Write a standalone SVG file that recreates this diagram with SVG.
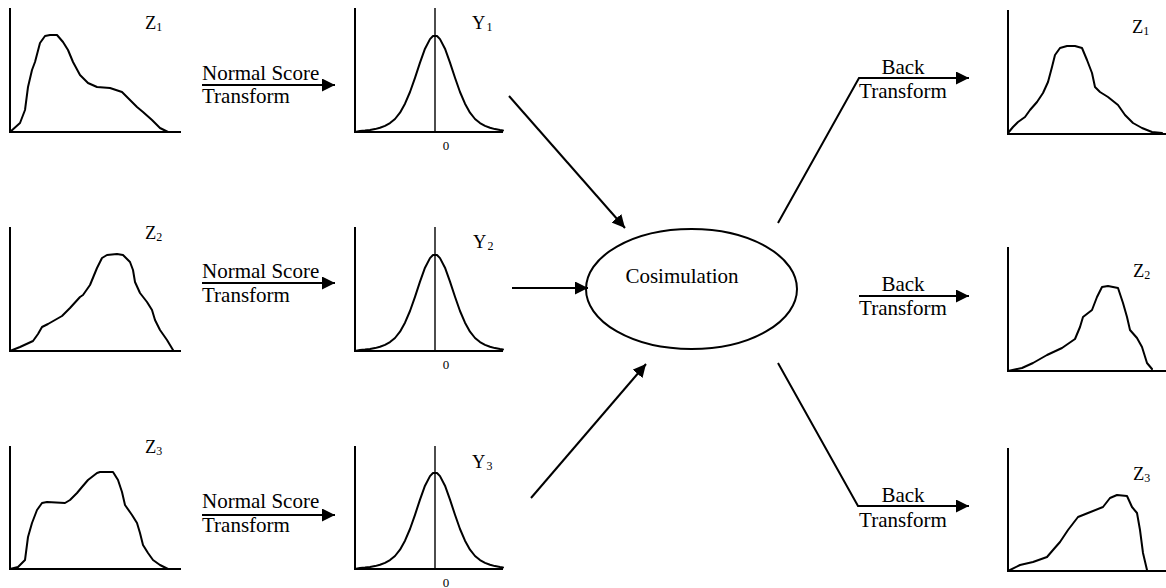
<svg xmlns="http://www.w3.org/2000/svg" xmlns:xlink="http://www.w3.org/1999/xlink" width="1166" height="588" viewBox="0 0 1166 588">
<style>
.ax{stroke:#000;stroke-width:2;fill:none}
.cl{stroke:#000;stroke-width:1.4;fill:none}
.cv{stroke:#000;stroke-width:2;fill:none;stroke-linejoin:round;stroke-linecap:round}
.cn{stroke:#000;stroke-width:2;fill:none}
text{font-family:"Liberation Serif","Times New Roman",serif;fill:#000}
.lbl{font-size:18.5px}
.sub{font-size:12px}
.tx{font-size:21px}
.zero{font-size:13px}
</style>
<defs>
<marker id="ah" markerUnits="userSpaceOnUse" markerWidth="14" markerHeight="14" viewBox="0 0 14 14" refX="13" refY="6.5" orient="auto">
<path d="M0,0 L13,6.5 L0,13 Z" fill="#000"/>
</marker>
<path id="bell" d="M-80,0 L-75,-1 L-70,-1.4 L-65,-2 L-60,-2.9 L-55,-4.2 L-50,-6.1 L-45,-8.9 L-40,-13 L-35,-19.3 L-30,-28.3 L-25,-40 L-20,-54.2 L-15,-69.4 L-10,-83.3 L-5,-92.9 L-2,-96 L2,-96 L5,-92.9 L10,-83.3 L15,-69.4 L20,-54.2 L25,-40 L30,-28.3 L35,-19.3 L40,-13 L45,-8.9 L50,-6.1 L55,-4.2 L60,-2.9 L65,-2 L68,-1.6" class="cv"/>
</defs>

<g id="z1-in">
<path class="ax" d="M10,8 V132 H181"/>
<path class="cv" d="M10,132 L20,123 L25,110 L28,87 L32,70 L35,62 L40,43 L45,36 L50,35 L57,35 L63,42 L68,50 L73,62 L80,75 L88,83 L97,87 L110,88 L122,92 L128,98 L137,107 L143,112 L152,120 L160,128 L168,132"/>
<text class="lbl" x="145" y="29">Z<tspan class="sub" dy="2">1</tspan></text>
</g>
<g id="z2-in">
<path class="ax" d="M10,227 V351 H181"/>
<path class="cv" d="M10,351 L20,347 L33,341 L38,334 L42,327 L48,324 L62,316 L70,308 L80,297 L83,295 L90,285 L97,268 L102,258 L107,255 L117,254 L123,255 L130,262 L133,270 L135,282 L140,293 L147,302 L152,310 L155,320 L160,330 L167,340 L173,350"/>
<text class="lbl" x="145" y="239">Z<tspan class="sub" dy="2">2</tspan></text>
</g>
<g id="z3-in">
<path class="ax" d="M10,446 V569 H181"/>
<path class="cv" d="M10,569 L18,567 L25,560 L28,537 L32,523 L37,510 L42,503 L47,502 L65,503 L70,500 L77,493 L82,487 L88,480 L97,473 L100,472 L113,472 L118,480 L122,492 L125,505 L132,515 L137,523 L140,533 L143,545 L148,553 L153,560 L160,565 L168,569"/>
<text class="lbl" x="145" y="453">Z<tspan class="sub" dy="2">3</tspan></text>
</g>

<g id="y1">
<path class="ax" d="M355,8 V132 H503"/>
<path class="cl" d="M435,8 V132"/>
<use xlink:href="#bell" transform="translate(435,132)"/>
<text class="lbl" x="472" y="29">Y<tspan class="sub" dx="1" dy="2">1</tspan></text>
<text class="zero" x="446" y="150" text-anchor="middle">0</text>
</g>
<g id="y2">
<path class="ax" d="M355,227 V351 H503"/>
<path class="cl" d="M435,227 V351"/>
<use xlink:href="#bell" transform="translate(435,351)"/>
<text class="lbl" x="473" y="248">Y<tspan class="sub" dx="1" dy="2">2</tspan></text>
<text class="zero" x="446" y="369" text-anchor="middle">0</text>
</g>
<g id="y3">
<path class="ax" d="M355,446 V569 H503"/>
<path class="cl" d="M435,446 V569"/>
<use xlink:href="#bell" transform="translate(435,569)"/>
<text class="lbl" x="472" y="468">Y<tspan class="sub" dx="1" dy="2">3</tspan></text>
<text class="zero" x="446" y="587" text-anchor="middle">0</text>
</g>

<g id="cosim">
<ellipse cx="691.5" cy="289" rx="105.5" ry="60" class="ax"/>
<text class="tx" x="682" y="283" text-anchor="middle">Cosimulation</text>
</g>

<g id="z1-out">
<path class="ax" d="M1008,10 V134 H1166"/>
<path class="cv" d="M1008,133 L1013,127 L1018,122 L1025,117 L1030,110 L1037,102 L1043,93 L1048,82 L1052,67 L1055,55 L1060,48 L1067,46 L1075,46 L1082,48 L1087,60 L1092,73 L1095,87 L1100,92 L1108,97 L1118,105 L1125,115 L1133,123 L1142,128 L1152,132 L1162,133"/>
<text class="lbl" x="1132" y="33">Z<tspan class="sub" dy="2">1</tspan></text>
</g>
<g id="z2-out">
<path class="ax" d="M1008,247 V371 H1166"/>
<path class="cv" d="M1008,371 L1022,368 L1033,363 L1047,355 L1062,348 L1075,339 L1080,327 L1083,317 L1092,310 L1097,297 L1102,287 L1108,286 L1118,288 L1123,303 L1127,317 L1130,330 L1137,338 L1142,347 L1147,363 L1152,369"/>
<text class="lbl" x="1133" y="277">Z<tspan class="sub" dy="2">2</tspan></text>
</g>
<g id="z3-out">
<path class="ax" d="M1008,448 V571 H1166"/>
<path class="cv" d="M1008,571 L1020,565 L1033,562 L1047,557 L1053,550 L1060,542 L1068,530 L1078,517 L1088,513 L1103,507 L1110,498 L1117,495 L1127,496 L1132,507 L1137,513 L1140,530 L1143,553 L1147,570"/>
<text class="lbl" x="1133" y="480">Z<tspan class="sub" dy="2">3</tspan></text>
</g>

<g id="connectors">
<line class="cn" x1="202" y1="85" x2="335" y2="85" marker-end="url(#ah)"/>
<line class="cn" x1="202" y1="283" x2="335" y2="283" marker-end="url(#ah)"/>
<line class="cn" x1="202" y1="515" x2="335" y2="515" marker-end="url(#ah)"/>
<line class="cn" x1="509" y1="96" x2="625" y2="228" marker-end="url(#ah)"/>
<line class="cn" x1="512" y1="288" x2="588" y2="288" marker-end="url(#ah)"/>
<line class="cn" x1="531" y1="498" x2="646" y2="364" marker-end="url(#ah)"/>
<polyline class="cn" points="778,223 859,78 969,78" marker-end="url(#ah)"/>
<line class="cn" x1="859" y1="296" x2="969" y2="296" marker-end="url(#ah)"/>
<polyline class="cn" points="778,363 858,506 969,506" marker-end="url(#ah)"/>
</g>

<g id="labels">
<text class="tx" x="202" y="80">Normal Score</text>
<text class="tx" x="202" y="103">Transform</text>
<text class="tx" x="202" y="278">Normal Score</text>
<text class="tx" x="202" y="302">Transform</text>
<text class="tx" x="202" y="508">Normal Score</text>
<text class="tx" x="202" y="532">Transform</text>
<text class="tx" x="903" y="74" text-anchor="middle">Back</text>
<text class="tx" x="903" y="98" text-anchor="middle">Transform</text>
<text class="tx" x="903" y="291" text-anchor="middle">Back</text>
<text class="tx" x="903" y="315" text-anchor="middle">Transform</text>
<text class="tx" x="903" y="502" text-anchor="middle">Back</text>
<text class="tx" x="903" y="527" text-anchor="middle">Transform</text>
</g>
</svg>
